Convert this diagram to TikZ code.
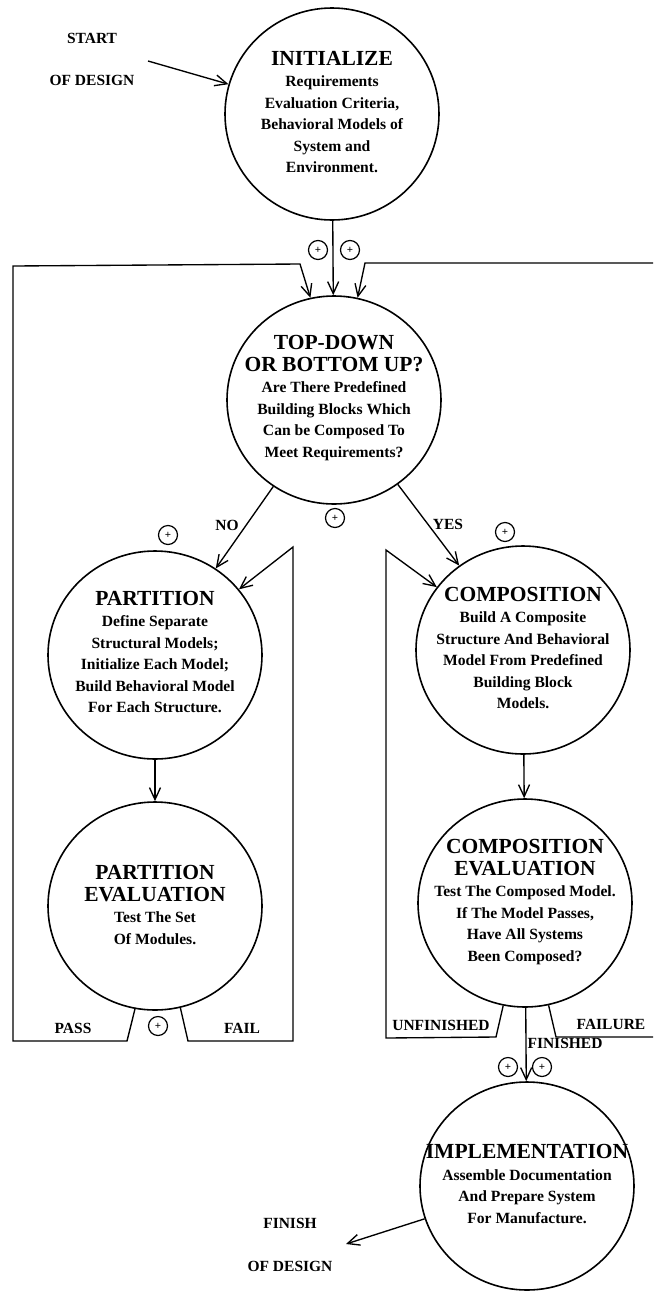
\documentclass[tikz,border=0pt]{standalone}
\usepackage{fontspec}
\setmainfont{Liberation Serif}
\usetikzlibrary{arrows.meta,shapes.geometric}

\tikzset{
  stage/.style={draw, ellipse, line width=1.6pt, minimum width=214pt,
    minimum height=208pt, inner sep=0pt},
  stagetext/.style={align=center, inner sep=0pt,
    font=\fontsize{15.6}{21.5}\selectfont\bfseries},
  lbl/.style={inner sep=0pt, font=\fontsize{15.5}{18}\selectfont\bfseries},
  wire/.style={line width=1.35pt},
  flow/.style={wire, -{Straight Barb[length=12pt,width=11pt]}},
  plusmark/.style={draw, circle, line width=1.2pt, minimum size=19pt,
    inner sep=0pt, font=\fontsize{11}{11}\selectfont\bfseries},
}
\newcommand{\stagehead}[1]{{\fontsize{21.5}{21.5}\selectfont #1}}

\begin{document}
\begin{tikzpicture}[x=1pt,y=-1pt]
\fill[white] (0,0) rectangle (653,1291);

% ---- stages ----
\node[stage, minimum height=212pt] (init) at (332,114) {};
\node[stage] (topdown)  at (334,400) {};
\node[stage] (part)     at (155,655) {};
\node[stage] (comp)     at (523,650) {};
\node[stage] (parteval) at (155,906) {};
\node[stage] (compeval) at (525,903) {};
\node[stage] (impl)     at (527,1186) {};

\node[stagetext] (init-t) at ([yshift=2pt]init.center)
  {\stagehead{INITIALIZE}\\Requirements\\Evaluation Criteria,\\Behavioral Models of\\System and\\Environment.};
\node[stagetext] (topdown-t) at ([yshift=2pt]topdown.center)
  {\stagehead{TOP-DOWN}\\\stagehead{OR BOTTOM UP?}\\Are There Predefined\\Building Blocks Which\\Can be Composed To\\Meet Requirements?};
\node[stagetext] (part-t) at ([yshift=3pt]part.center)
  {\stagehead{PARTITION}\\Define Separate\\Structural Models;\\Initialize Each Model;\\Build Behavioral Model\\For Each Structure.};
\node[stagetext] (comp-t) at ([yshift=2pt]comp.center)
  {\stagehead{COMPOSITION}\\Build A Composite\\Structure And Behavioral\\Model From Predefined\\Building Block\\Models.};
\node[stagetext] (parteval-t) at ([yshift=1pt]parteval.center)
  {\stagehead{PARTITION}\\\stagehead{EVALUATION}\\Test The Set\\Of Modules.};
\node[stagetext] (compeval-t) at ([yshift=1pt]compeval.center)
  {\stagehead{COMPOSITION}\\\stagehead{EVALUATION}\\Test The Composed Model.\\If The Model Passes,\\Have All Systems\\Been Composed?};
\node[stagetext] (impl-t) at ([yshift=2pt]impl.center)
  {\stagehead{IMPLEMENTATION}\\Assemble Documentation\\And Prepare System\\For Manufacture.};

% ---- start / finish ----
\node[lbl] (start)   at (92,38) {START};
\node[lbl] (start-b) at (92,80) {OF DESIGN};
\coordinate (start-tail) at (148,61);
\draw[flow] (start-tail) -- (init);

\node[lbl] (finish)   at (290,1223) {FINISH};
\node[lbl] (finish-b) at (290,1266) {OF DESIGN};
\coordinate (finish-tip) at (346,1244);
\draw[flow] (impl) -- (finish-tip);

% ---- main flow ----
\draw[flow] (init) -- (topdown);
\draw[flow] (topdown) -- (part);
\draw[flow] (topdown) -- (comp);
\draw[flow] (part) -- (parteval);
\draw[flow] (comp) -- (compeval);
\draw[flow] (compeval) -- (impl);

% ---- PASS: back to the decision ----
\coordinate (pass-a) at (127,1041);
\coordinate (pass-b) at (13,1041);
\coordinate (pass-c) at (13,266);
\coordinate (pass-d) at (300,264);
\draw[flow] (parteval.-101) -- (pass-a) -- (pass-b) -- (pass-c) -- (pass-d) -- (topdown.103);

% ---- FAIL: back to partition ----
\coordinate (fail-a) at (188,1041);
\coordinate (fail-b) at (293,1041);
\coordinate (fail-c) at (293,547);
\draw[flow] (parteval.-76) -- (fail-a) -- (fail-b) -- (fail-c) -- (part);

% ---- UNFINISHED: back to composition ----
\coordinate (unf-a) at (496,1037);
\coordinate (unf-b) at (386,1038);
\coordinate (unf-c) at (386,550);
\draw[flow] (compeval.-102) -- (unf-a) -- (unf-b) -- (unf-c) -- (comp);

% ---- FAILURE: off to the right ----
\coordinate (flr-a) at (556,1037);
\coordinate (flr-b) at (653,1037);
\draw[wire] (compeval.-77) -- (flr-a) -- (flr-b);

% ---- return from the right ----
\coordinate (ret-a) at (653,263);
\coordinate (ret-b) at (365,263);
\draw[flow] (ret-a) -- (ret-b) -- (topdown.77);

% ---- branch labels ----
\node[lbl] (no)    at (227,525) {NO};
\node[lbl] (yes)   at (448,524) {YES};
\node[lbl] (pass)  at (73,1028) {PASS};
\node[lbl] (fail)  at (242,1028) {FAIL};
\node[lbl] (unf)   at (441,1025) {UNFINISHED};
\node[lbl] (flr)   at (611,1024) {FAILURE};
\node[lbl] (fin)   at (565,1043) {FINISHED};

% ---- plus marks ----
\node[plusmark] (pm1) at (318,250) {+};
\node[plusmark] (pm2) at (350,250) {+};
\node[plusmark] (pm3) at (335,518) {+};
\node[plusmark] (pm4) at (168,535) {+};
\node[plusmark] (pm5) at (505,532) {+};
\node[plusmark] (pm6) at (158,1026) {+};
\node[plusmark] (pm7) at (508,1067) {+};
\node[plusmark] (pm8) at (542,1067) {+};
\end{tikzpicture}
\end{document}
